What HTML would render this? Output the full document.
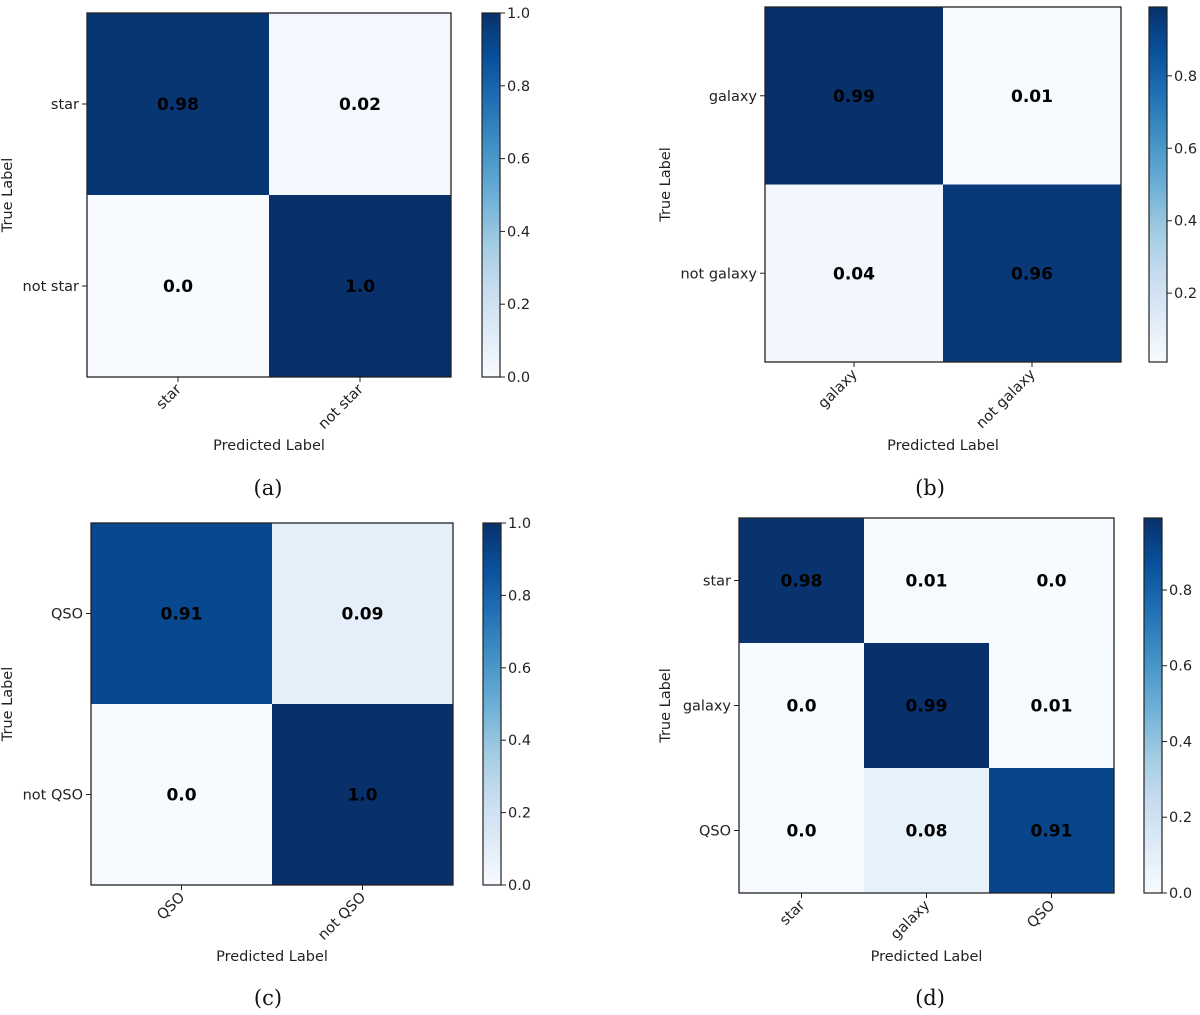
<!DOCTYPE html>
<html><head><meta charset="utf-8"><style>
html,body{margin:0;padding:0;background:#fff;}
svg{display:block;font-family:"DejaVu Sans","Liberation Sans",sans-serif;}
</style></head><body>
<svg id="fig" width="1200" height="1015" viewBox="0 0 1200 1015" xmlns="http://www.w3.org/2000/svg"></svg>
<script>
// Panel data
const labelsA = ["star", "not star"];
const valuesA = [[0.98, 0.02], [0.0, 1.0]];
const cbTicksA = [0.0, 0.2, 0.4, 0.6, 0.8, 1.0];
const labelsB = ["galaxy", "not galaxy"];
const valuesB = [[0.99, 0.01], [0.04, 0.96]];
const cbTicksB = [0.2, 0.4, 0.6, 0.8];
const labelsC = ["QSO", "not QSO"];
const valuesC = [[0.91, 0.09], [0.0, 1.0]];
const cbTicksC = [0.0, 0.2, 0.4, 0.6, 0.8, 1.0];
const labelsD = ["star", "galaxy", "QSO"];
const valuesD = [[0.98, 0.01, 0.0], [0.0, 0.99, 0.01], [0.0, 0.08, 0.91]];
const cbTicksD = [0.0, 0.2, 0.4, 0.6, 0.8];

const NS = "http://www.w3.org/2000/svg";
const svg = document.getElementById('fig');
const blues = ["#f7fbff","#deebf7","#c6dbef","#9ecae1","#6baed6","#4292c6","#2171b5","#08519c","#08306b"];
function hex(h){return [parseInt(h.substr(1,2),16),parseInt(h.substr(3,2),16),parseInt(h.substr(5,2),16)];}
function cmap(t){
  t=Math.max(0,Math.min(1,t));
  const p=t*8, i=Math.min(7,Math.floor(p)), f=p-i;
  const a=hex(blues[i]), b=hex(blues[i+1]);
  return "rgb("+a.map((v,k)=>Math.round(v+(b[k]-v)*f)).join(",")+")";
}
function mk(tag, attrs, parent){
  const e=document.createElementNS(NS,tag);
  for(const k in attrs) e.setAttribute(k,attrs[k]);
  (parent||svg).appendChild(e); return e;
}
function fmt(v){ return (Math.round(v*100)/100).toString().replace(/^(\d+)$/,"$1.0"); }
const FS='14.5';

function panel(id, labels, values, cbTicks, box, cb, ylabX, xlabY, caption, capX, capY){
  const g=mk('g',{});
  
  
  const n=labels.length;
  const flat=values.flat();
  const vmin=Math.min(...flat), vmax=Math.max(...flat);
  const cw=(box.x1-box.x0)/n, ch=(box.y1-box.y0)/n;
  const xs=j=>box.x0+j*cw, ys=i=>box.y0+i*ch;
  values.forEach((row,i)=>row.forEach((v,j)=>{
    const r=mk('rect',{x:xs(j),y:ys(i),width:cw+0.5,height:ch+0.5,fill:cmap((v-vmin)/(vmax-vmin))},g);
    
    
    const t=mk('text',{x:xs(j)+cw/2,y:ys(i)+ch/2+6,'text-anchor':'middle','font-size':'17','font-weight':'bold',fill:'#000'},g);
    t.textContent=fmt(v);
    
    
  }));
  const fr=mk('rect',{x:box.x0,y:box.y0,width:box.x1-box.x0,height:box.y1-box.y0,fill:'none',stroke:'#222','stroke-width':1.3},g);
  
  
  labels.forEach((lab,k)=>{
    const cy=ys(k)+ch/2;
    mk('line',{x1:box.x0-5,y1:cy,x2:box.x0,y2:cy,stroke:'#222'},g);
    const yt=mk('text',{x:box.x0-8,y:cy+5,'text-anchor':'end','font-size':FS,fill:'#222'},g);
    yt.textContent=lab;
    
    
    const cx=xs(k)+cw/2;
    mk('line',{x1:cx,y1:box.y1,x2:cx,y2:box.y1+5,stroke:'#222'},g);
    const xt=mk('text',{x:cx+4,y:box.y1+13,'text-anchor':'end','font-size':FS,fill:'#222',transform:'rotate(-45 '+(cx+4)+' '+(box.y1+13)+')'},g);
    xt.textContent=lab;
    
    
  });
  const cxm=(box.x0+box.x1)/2;
  const xl=mk('text',{x:cxm,y:xlabY,'text-anchor':'middle','font-size':FS,fill:'#222'},g);
  xl.textContent='Predicted Label';
  
  
  const cym=(box.y0+box.y1)/2;
  const yl=mk('text',{x:ylabX,y:cym,'text-anchor':'middle','font-size':FS,fill:'#222',transform:'rotate(-90 '+ylabX+' '+cym+')'},g);
  yl.textContent='True Label';
  
  
  const defs=mk('defs',{},g);
  const lg=mk('linearGradient',{id:'grad'+id,x1:0,y1:1,x2:0,y2:0},defs);
  for(let s=0;s<=16;s++) mk('stop',{offset:s/16,'stop-color':cmap(s/16)},lg);
  const cbr=mk('rect',{x:cb.x0,y:box.y0,width:cb.x1-cb.x0,height:box.y1-box.y0,fill:'url(#grad'+id+')',stroke:'#222','stroke-width':1.2},g);
  
  
  const cbY=v=>box.y1-(v-vmin)/(vmax-vmin)*(box.y1-box.y0);
  cbTicks.forEach(v=>{
    const y=cbY(v);
    mk('line',{x1:cb.x1,y1:y,x2:cb.x1+5,y2:y,stroke:'#222'},g);
    const t=mk('text',{x:cb.x1+7,y:y+5,'font-size':FS,fill:'#222'},g);
    t.textContent=v.toFixed(1);
    
    
  });
  const cap=mk('text',{x:capX,y:capY,'text-anchor':'middle','font-size':'21',fill:'#111','font-family':'"DejaVu Serif","Liberation Serif",serif'},g);
  cap.textContent=caption;
  
  
}
panel('a',labelsA,valuesA,cbTicksA,{x0:87,x1:451,y0:13,y1:377},{x0:482,x1:500},12,450,'(a)',268,495);
panel('b',labelsB,valuesB,cbTicksB,{x0:765,x1:1121,y0:7,y1:362},{x0:1149,x1:1167},670,450,'(b)',930,495);
panel('c',labelsC,valuesC,cbTicksC,{x0:91,x1:453,y0:523,y1:885},{x0:483,x1:501},12,961,'(c)',268,1005);
panel('d',labelsD,valuesD,cbTicksD,{x0:739,x1:1114,y0:518,y1:893},{x0:1144,x1:1162},670,961,'(d)',930,1005);
</script>
</body></html>
